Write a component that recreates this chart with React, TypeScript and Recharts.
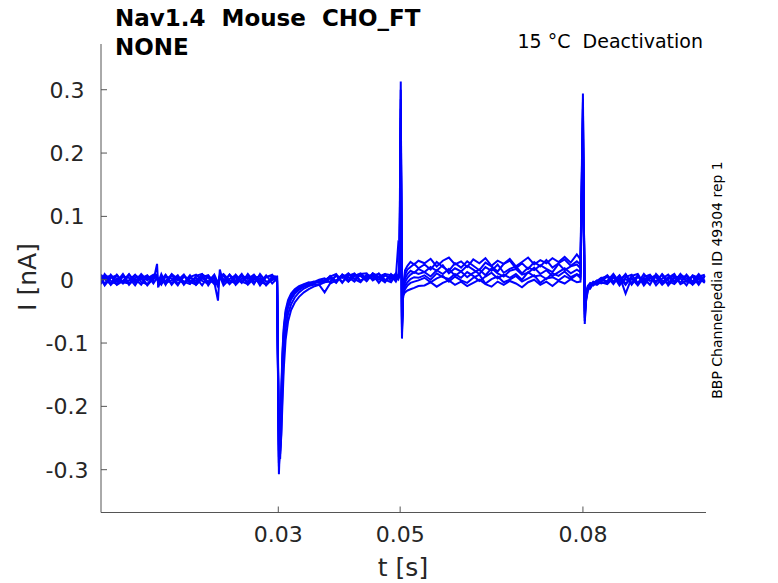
import { Line, LineChart, XAxis, YAxis } from "recharts";

// sample times [s]; denser around the voltage steps at 0.03, 0.05 and 0.08 s
const times = [
  0.0009, 0.0015, 0.0025, 0.0035, 0.0045, 0.0055, 0.0065, 0.0075, 0.0085, 0.0095, 0.0101, 0.0103, 0.0108, 0.0115,
  0.0125, 0.0135, 0.0145, 0.0155, 0.0165, 0.0175, 0.0185, 0.0195, 0.0201, 0.0204, 0.021, 0.022, 0.023, 0.024, 0.025,
  0.026, 0.027, 0.028, 0.029,
  0.0298, 0.0301, 0.0303, 0.0305, 0.0307, 0.0309, 0.0312, 0.0316, 0.0321, 0.0327, 0.0334, 0.0342, 0.035, 0.0358,
  0.0367, 0.0376, 0.0385, 0.0395, 0.0405, 0.0415, 0.0425, 0.0435, 0.0445, 0.0455, 0.0465, 0.0475, 0.0485, 0.0493,
  0.0497,
  0.0499, 0.0501, 0.0503, 0.0505, 0.0508, 0.0512, 0.0517, 0.0523, 0.053, 0.054, 0.055, 0.056, 0.057, 0.058, 0.059,
  0.06, 0.061, 0.062, 0.063, 0.064, 0.065, 0.066, 0.067, 0.068, 0.069, 0.07, 0.071, 0.072, 0.073, 0.074, 0.075,
  0.076, 0.077, 0.078, 0.079, 0.0796,
  0.08, 0.0803, 0.0805, 0.0808, 0.0812, 0.0817, 0.0823, 0.083, 0.084, 0.085, 0.086, 0.087, 0.088, 0.089, 0.09,
  0.091, 0.092, 0.093, 0.094, 0.095, 0.096, 0.097, 0.098, 0.099, 0.1,
];

// currents [pA], one array per sweep
const sweep1 = [
  5, -7, 8, -3, 9, -6, 1, -8, 6, -2, 25, -12, 4, -7, 7, -1, 8, -6, 3, -9, 6, -4, -33, 16, -5, 8, -2, 6, -8, 2, -5, 7, -6,
  2, -307, -250, -170, -110, -75, -48, -32, -22, -15, -10, -7, -4, -6, -1, -3, 6, -4, 8, 0, 9, -3, 7, 2, 10, -1, 6, 4,
  58,
  55, 313, -93, -10, 15, 22, 28, 24, 30, 26, 33, 21, 30, 35, 24, 29, 20, 32, 26, 34, 22, 30, 25, 33, 21, 28, 35, 24,
  31, 26, 34, 28, 36, 27, 40, 32,
  294, -70, -30, -14, -8, -5, -2, 3, -6, 8, -3, 9, -7, 4, -1, 7, -9, 2, 8, -4, 9, -3, 5, -8, 6,
];
const sweep2 = [
  -4, 7, -8, 2, -6, 8, -3, 9, -1, 6, 8, -9, -2, 7, -8, 4, -7, 3, -2, 8, -9, 5, -12, 8, 6, -7, 4, -5, 9, -3, 2, -8, 5,
  -1, -240, -283, -235, -170, -120, -78, -54, -39, -28, -20, -14, -10, -8, -8, -4, -3, 7, -5, 9, 1, 8, -2, 10, 3, -4,
  9, 1, 4,
  30, 300, -85, -15, 8, 16, 20, 25, 18, 24, 16, 28, 20, 14, 26, 19, 29, 22, 15, 27, 21, 13, 25, 30, 18, 26, 17, 28, 21,
  31, 19, 26, 32, 22, 29, 24,
  280, -65, -35, -18, -10, -6, -8, -3, 5, -7, 6, -22, 3, -6, 9, -2, 4, -8, 1, 7, -5, 8, -3, 9, -2,
];
const sweep3 = [
  8, 1, -6, -2, 7, -8, 3, 6, -9, 2, 5, -4, 9, -5, -1, 7, -8, 4, 8, -2, -6, 3, -8, 6, -9, 1, 7, -4, 5, -7, 9, -3, -1,
  4, -290, -260, -190, -125, -85, -55, -38, -27, -19, -14, -8, -6, -3, -5, -1, 5, 9, -4, 6, 10, -2, 4, 8, -5, 7, 2,
  10, 3,
  22, 285, -80, -18, 2, 9, 14, 11, 17, 12, 20, 14, 23, 10, 18, 13, 22, 16, 9, 20, 14, 24, 11, 17, 21, 10, 19, 15, 23,
  17, 12, 25, 15, 21, 24, 18,
  270, -60, -28, -12, -6, -9, -4, 1, -3, 6, -9, 4, 8, -5, 2, -8, 9, -1, -6, 5, 2, -9, 7, 3, -5,
];
const sweep4 = [
  -7, 4, 6, -8, -2, 9, -5, 2, 7, -6, 3, -2, -8, 5, 2, -9, 6, -1, -5, 8, 3, -7, -6, 4, 1, -6, 8, -3, -7, 6, -2, 4, 8,
  -3, -280, -270, -210, -140, -95, -62, -44, -31, -22, -16, -11, -8, -5, -2, -4, 2, -5, 8, 4, -3, 9, 10, -1, 5, 9,
  -2, 6, 1,
  15, 270, -75, -20, -4, 3, 8, 12, 9, 12, 5, 15, 9, 17, 6, 13, 4, 11, 16, 7, 18, 10, 5, 14, 17, 8, 11, 19, 9, 15, 6,
  12, 18, 10, 16, 12,
  255, -55, -32, -16, -12, -4, -7, -2, 7, -4, 3, -8, 6, 9, -6, 4, -3, 8, -9, 2, 6, -2, -7, 5, 8,
];
const sweep5 = [
  2, -9, 3, 7, -5, -1, 8, -4, -7, 5, 2, -3, 6, -8, 9, 1, -5, 7, -8, 2, -3, 8, -5, 5, 7, -5, -2, 9, -6, 3, 5, -9, 1,
  1, -295, -255, -180, -118, -80, -52, -36, -25, -17, -12, -9, -5, -4, 0, 2, -4, 6, 3, 10, 1, -4, 8, 5, 0, 9, 7, -3,
  5,
  10, 255, -70, -22, -10, -4, 1, 4, 3, 7, 0, 10, 4, 1, 9, 3, 12, 6, -2, 5, 11, 2, 8, 3, 9, 0, 12, 5, 7, 1, 10, 6, 13,
  4, 9, 6,
  240, -50, -25, -10, -5, -7, -3, -6, -2, 9, -6, 1, -5, 7, -9, 3, 6, -6, 4, -3, 8, 2, -6, 7, -4,
];
const sweep6 = [
  6, 2, -7, 8, -4, -6, 7, 1, -8, 4, 4, -5, -1, 8, -6, 5, -3, -7, 6, 9, -5, -1, -7, 3, -4, 8, -8, 2, -3, 7, -9, 4, 6,
  5, -260, -275, -245, -190, -140, -95, -66, -48, -36, -27, -20, -15, -11, -8, -20, -6, -1, 5, -3, 8, 6, -2, 10, 4,
  -3, 8, 5, 2,
  6, 240, -65, -24, -15, -9, -5, -3, -1, 3, -4, 2, 6, -3, 5, -1, -5, 3, 8, -6, 1, 5, -4, 0, 6, -3, 2, 7, -5, 2, 4, -1,
  6, 1, 8, 3,
  225, -45, -22, -15, -9, -3, -5, 2, 6, -3, 7, -6, 2, -9, 4, 8, -4, 9, -2, -7, 3, 6, -8, 1, 4,
];
const sweep7 = [
  -5, 9, -2, -7, 5, 3, -9, 6, 2, 8, 3, 2, -6, -2, 8, -7, 5, -3, -8, 4, 7, -5, -4, 5, 9, -1, -6, 7, 1, 8, -4, -7, 3,
  -2, -270, -265, -200, -135, -90, -58, -40, -29, -20, -15, -10, -7, -6, -3, -1, 4, -2, 8, -3, 6, 10, 2, 7, 9, 0, -4,
  8, 3,
  4, 230, -60, -25, -20, -17, -15, -13, -10, -9, -4, -11, -5, -1, -8, -3, -10, -5, 0, -7, -11, -3, -8, -2, -6, -12, -4,
  0, -8, -3, -10, -2, -6, 1, -4, -3,
  210, -40, -20, -11, -14, -6, -1, -4, -7, 3, -1, 8, -8, 6, -3, 2, 7, -5, 3, 9, -7, -2, 6, -4, 7,
];

const sweeps = [sweep1, sweep2, sweep3, sweep4, sweep5, sweep6, sweep7];
const xTicks = [0.03, 0.05, 0.08];
const yTicks = [-0.3, -0.2, -0.1, 0, 0.1, 0.2, 0.3];

const rows = times.map((t, i) => {
  const row: Record<string, number> = { t };
  sweeps.forEach((s, k) => {
    row[`s${k + 1}`] = s[i] / 1000;
  });
  return row;
});

const FONT = "DejaVu Sans, sans-serif";
const INK = "#262626";
const AXIS = "#555555";
const BLUE = "#0000ff";
const SP2 = "\u00a0\u00a0";

function XTick(props: any) {
  const { x, y, payload } = props;
  return (
    <g>
      <line x1={x} y1={y} x2={x} y2={y - 6} stroke={AXIS} />
      <text x={x} y={y + 29} textAnchor="middle" fontSize={22} fontFamily={FONT} fill={INK}>
        {String(payload.value)}
      </text>
    </g>
  );
}

function YTick(props: any) {
  const { x, y, payload } = props;
  return (
    <g>
      <line x1={x} y1={y} x2={x + 6} y2={y} stroke={AXIS} />
      <text x={x - 34} y={y + 8} textAnchor="middle" fontSize={22} fontFamily={FONT} fill={INK}>
        {String(payload.value)}
      </text>
    </g>
  );
}

export default function App() {
  return (
    <div style={{ position: "absolute", left: 0, top: 0, width: 778, height: 583, background: "#fff" }}>
      <LineChart width={778} height={583} data={rows} margin={{ top: 44, right: 72, bottom: 40.5, left: 41 }}>
        <XAxis
          dataKey="t"
          type="number"
          domain={[0.0009, 0.1002]}
          ticks={xTicks}
          allowDataOverflow
          height={30}
          tickSize={0}
          tickMargin={0}
          tick={<XTick />}
          axisLine={{ stroke: AXIS }}
          tickLine={false}
        />
        <YAxis
          type="number"
          domain={[-0.3676, 0.3722]}
          ticks={yTicks}
          allowDataOverflow
          width={60}
          tickSize={0}
          tickMargin={0}
          tick={<YTick />}
          axisLine={{ stroke: AXIS }}
          tickLine={false}
        />
        {sweeps.map((_, k) => (
          <Line
            key={k}
            dataKey={`s${k + 1}`}
            type="linear"
            stroke={BLUE}
            strokeWidth={2}
            dot={false}
            activeDot={false}
            isAnimationActive={false}
          />
        ))}
      </LineChart>
      <svg width={778} height={583} style={{ position: "absolute", left: 0, top: 0, pointerEvents: "none" }}>
        <g fontFamily={FONT}>
          <text x={115} y={26} fontSize={23} fontWeight="bold" fill="#000">
            {`Nav1.4${SP2}Mouse${SP2}CHO_FT`}
          </text>
          <text x={115} y={55} fontSize={23} fontWeight="bold" fill="#000">
            NONE
          </text>
          <text x={703} y={48} fontSize={19} textAnchor="end" fill="#000">
            {`15 °C${SP2}Deactivation`}
          </text>
          <text x={403} y={576} fontSize={25} textAnchor="middle" fill={INK}>
            t [s]
          </text>
          <text x={28} y={277} dy="0.32em" fontSize={25} textAnchor="middle" fill={INK} transform="rotate(-90 28 277)">
            I [nA]
          </text>
          <text x={717} y={280} dy="0.35em" fontSize={14} textAnchor="middle" fill="#000" transform="rotate(-90 717 280)">
            BBP Channelpedia ID 49304 rep 1
          </text>
        </g>
      </svg>
    </div>
  );
}
